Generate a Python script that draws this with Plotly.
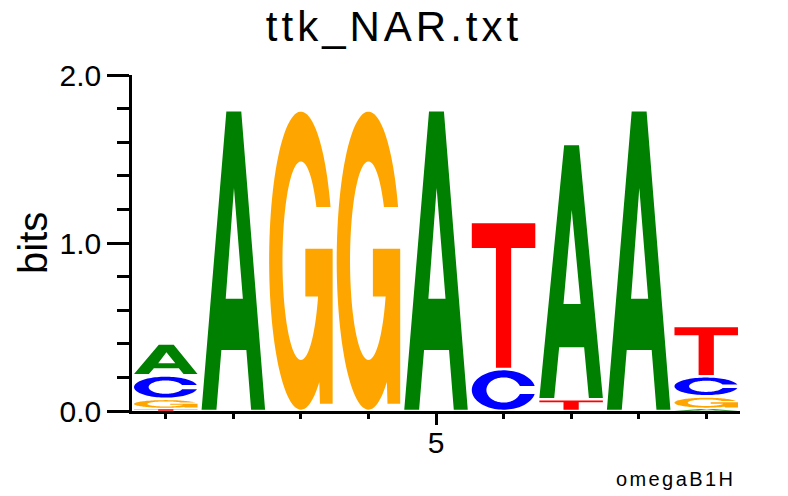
import numpy as np
import plotly.graph_objects as go

# ---------------- data (information content, bits) ----------------
positions = [1, 2, 3, 4, 5, 6, 7, 8, 9]
bits_A = [0.19, 1.79, 0.0, 0.0, 1.79, 0.0, 1.52, 1.79, 0.012]
bits_C = [0.14, 0.0, 0.0, 0.0, 0.0, 0.25, 0.0, 0.0, 0.12]
bits_G = [0.06, 0.0, 1.79, 1.79, 0.0, 0.0, 0.0, 0.0, 0.075]
bits_T = [0.012, 0.0, 0.0, 0.0, 0.0, 0.875, 0.07, 0.0, 0.30]

y_tick_vals = [0, 1, 2]
y_tick_text = ["0.0", "1.0", "2.0"]
x_tick_vals = [5]
x_tick_text = ["5"]

title_text = "ttk_NAR.txt"
y_label = "bits"
footer_text = "omegaB1H"

colors = {"A": "#008000", "C": "#0000FF", "G": "#FFA500", "T": "#FF0000"}
FONT = "Liberation Sans, Arial, Helvetica, sans-serif"


# ---------------- glyph outlines in a unit box ----------------
def ellipse_pts(cx, cy, rx, ry, a0, a1, n=60):
    t = np.radians(np.linspace(a0, a1, n))
    return list(zip(cx + rx * np.cos(t), cy + ry * np.sin(t)))


def glyph_unit(letter):
    if letter == "A":
        outer = [(0, 0), (0.234, 0), (0.312, 0.2), (0.705, 0.2), (0.78, 0),
                 (1, 0), (0.625, 1), (0.39, 1)]
        hole = [(0.38, 0.372), (0.51, 0.744), (0.65, 0.372)]
        return [outer, hole]
    if letter == "T":
        return [[(0, 1), (0, 0.83), (0.38, 0.83), (0.38, 0), (0.62, 0),
                 (0.62, 0.83), (1, 0.83), (1, 1)]]
    if letter == "C":
        g = 0.1
        rxi, ryi = 0.27, 0.32
        ts = np.degrees(np.arcsin(2 * g))
        ti = np.degrees(np.arcsin(g / ryi))
        pts = ellipse_pts(0.5, 0.5, 0.5, 0.5, ts, 360 - ts, 90)
        pts += ellipse_pts(0.5, 0.5, rxi, ryi, 360 - ti, ti, 90)
        return [pts]
    if letter == "G":
        rxi, ryi = 0.29, 0.333
        ts = np.degrees(np.arcsin(0.36))
        pts = ellipse_pts(0.5, 0.5, 0.5, 0.5, ts, 305.5, 90)
        pts += [(0.80, 0.02), (1.0, 0.02), (1.0, 0.54), (0.57, 0.54), (0.57, 0.38)]
        a_lo = -np.degrees(np.arcsin(0.12 / ryi))
        a_hi = np.degrees(np.arcsin(0.18 / ryi))
        pts += ellipse_pts(0.5, 0.5, rxi, ryi, a_lo, a_hi - 360, 90)
        return [pts]
    return []


def glyph_path(letter, x0, x1, y0, y1):
    parts = []
    for poly in glyph_unit(letter):
        coords = [(x0 + u * (x1 - x0), y0 + v * (y1 - y0)) for u, v in poly]
        s = "M {:.5f},{:.5f} ".format(*coords[0])
        s += " ".join("L {:.5f},{:.5f}".format(x, y) for x, y in coords[1:])
        parts.append(s + " Z")
    return " ".join(parts)


# ---------------- build shapes ----------------
shapes = []
half_w = 0.47
totals = []
for i, p in enumerate(positions):
    col = [("A", bits_A[i]), ("C", bits_C[i]), ("G", bits_G[i]), ("T", bits_T[i])]
    col = sorted([c for c in col if c[1] > 0], key=lambda c: c[1])
    base = 0.0
    for letter, h in col:
        pad = min(0.008, 0.12 * h)
        shapes.append(dict(
            type="path", xref="x", yref="y",
            path=glyph_path(letter, p - half_w, p + half_w, base + pad, base + h - pad),
            fillcolor=colors[letter], line=dict(width=0), layer="above",
        ))
        base += h
    totals.append(base)

fig = go.Figure()
fig.add_trace(go.Scatter(
    x=positions, y=totals, mode="markers",
    marker=dict(opacity=0, size=1), hoverinfo="x+y", showlegend=False,
))

axis_common = dict(
    showline=True, linecolor="black", linewidth=2.5, mirror=False,
    showgrid=False, zeroline=False, ticks="outside", tickcolor="black",
    tickwidth=2.5, tickfont=dict(family=FONT, size=30, color="black"),
    fixedrange=True,
)

fig.update_layout(
    width=788, height=496,
    margin=dict(l=132, r=48, t=75, b=85),
    paper_bgcolor="white", plot_bgcolor="white",
    shapes=shapes,
    title=dict(
        text='<span style="letter-spacing:4px">' + title_text + '</span>',
        x=0.5, xanchor="center", xref="container",
        y=1 - 26 / 496, yanchor="middle", yref="container",
        font=dict(family=FONT, size=42, color="black"),
    ),
    xaxis=dict(
        axis_common, range=[0.5, 9.5], tickmode="array",
        tickvals=x_tick_vals, ticktext=x_tick_text, ticklen=11,
        ticklabelstandoff=-8,
        minor=dict(tickmode="array", tickvals=positions, ticks="outside",
                   ticklen=5, tickwidth=2.5, tickcolor="black"),
    ),
    yaxis=dict(
        axis_common, range=[0, 2], tickmode="array",
        tickvals=y_tick_vals, ticktext=y_tick_text, ticklen=22,
        minor=dict(tick0=0, dtick=0.2, ticks="outside",
                   ticklen=12, tickwidth=2.5, tickcolor="black"),
    ),
    annotations=[
        dict(text=y_label, xref="paper", yref="paper",
             x=(33 - 132) / 608, y=0.5, xanchor="center", yanchor="middle",
             textangle=-90, showarrow=False,
             font=dict(family=FONT, size=40, color="black")),
        dict(text='<span style="letter-spacing:2.4px">' + footer_text + '</span>',
             xref="paper", yref="paper",
             x=(675 - 132) / 608, y=(411 - 479) / 336,
             xanchor="center", yanchor="middle", showarrow=False,
             font=dict(family=FONT, size=20, color="black")),
    ],
)

fig.write_html("out.html", config={"displayModeBar": False},
               post_script="document.body.style.margin='0px';")
